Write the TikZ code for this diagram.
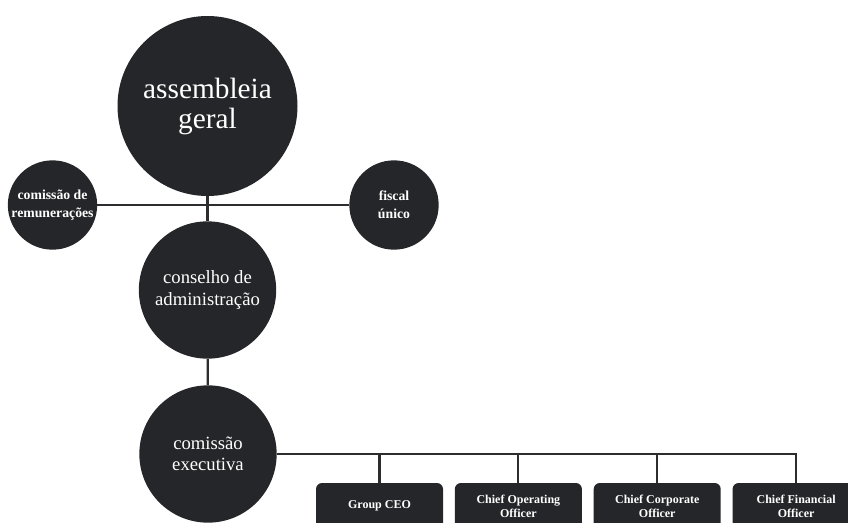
\documentclass[tikz,border=0pt]{standalone}
\usepackage{fontspec}
\setmainfont{Liberation Serif}
\usetikzlibrary{positioning}
\definecolor{coal}{RGB}{37,38,41}
\definecolor{wire}{RGB}{45,45,48}

\begin{document}
\begin{tikzpicture}[
    x=0.75pt, y=-0.75pt,
    organ/.style={circle, fill=coal, text=white, inner sep=0pt, align=center},
    bigorgan/.style={organ, minimum size=135pt, font=\fontsize{22}{22.5}\selectfont},
    midorgan/.style={organ, minimum size=103pt, font=\fontsize{14}{16}\selectfont},
    smallorgan/.style={organ, minimum size=67pt, font=\fontsize{10.3}{13.5}\selectfont\bfseries},
    officer/.style={rectangle, fill=coal, text=white, rounded corners=4.5pt, minimum width=95.25pt, minimum height=34.5pt, inner sep=0pt, align=center, font=\fontsize{9}{10.5}\selectfont\bfseries},
    link/.style={draw=wire, line width=1.6pt}
]
\useasboundingbox (0,0) rectangle (848,522);
\clip (0,0) rectangle (848,522);

% Governing bodies
\node[bigorgan] (assembleia) at (207.5,106) {assembleia\\geral};
\node[smallorgan] (remuneracoes) at (52.5,205) {comissão de\\remunerações};
\node[smallorgan] (fiscal) at (394,205) {fiscal\\único};
\node[midorgan] (conselho) at (207.5,290) {conselho de\\administração};
\node[midorgan] (executiva) at (208,454) {comissão\\executiva};

% Executive officers
\node[officer] (ceo) at (379.5,506) {Group CEO};
\node[officer, right=8.5pt of ceo] (coo) {Chief Operating\\Officer};
\node[officer, right=8.5pt of coo] (cco) {Chief Corporate\\Officer};
\node[officer, right=8.5pt of cco] (cfo) {Chief Financial\\Officer};

% Lines
\draw[link] (remuneracoes) -- (fiscal);
\draw[link] (assembleia) -- (conselho);
\draw[link] (conselho) -- (executiva);
\draw[link] (executiva.east) -| (cfo.north);
\draw[link] (ceo.north) -- (ceo.north |- executiva.east);
\draw[link] (coo.north) -- (coo.north |- executiva.east);
\draw[link] (cco.north) -- (cco.north |- executiva.east);

\end{tikzpicture}
\end{document}
